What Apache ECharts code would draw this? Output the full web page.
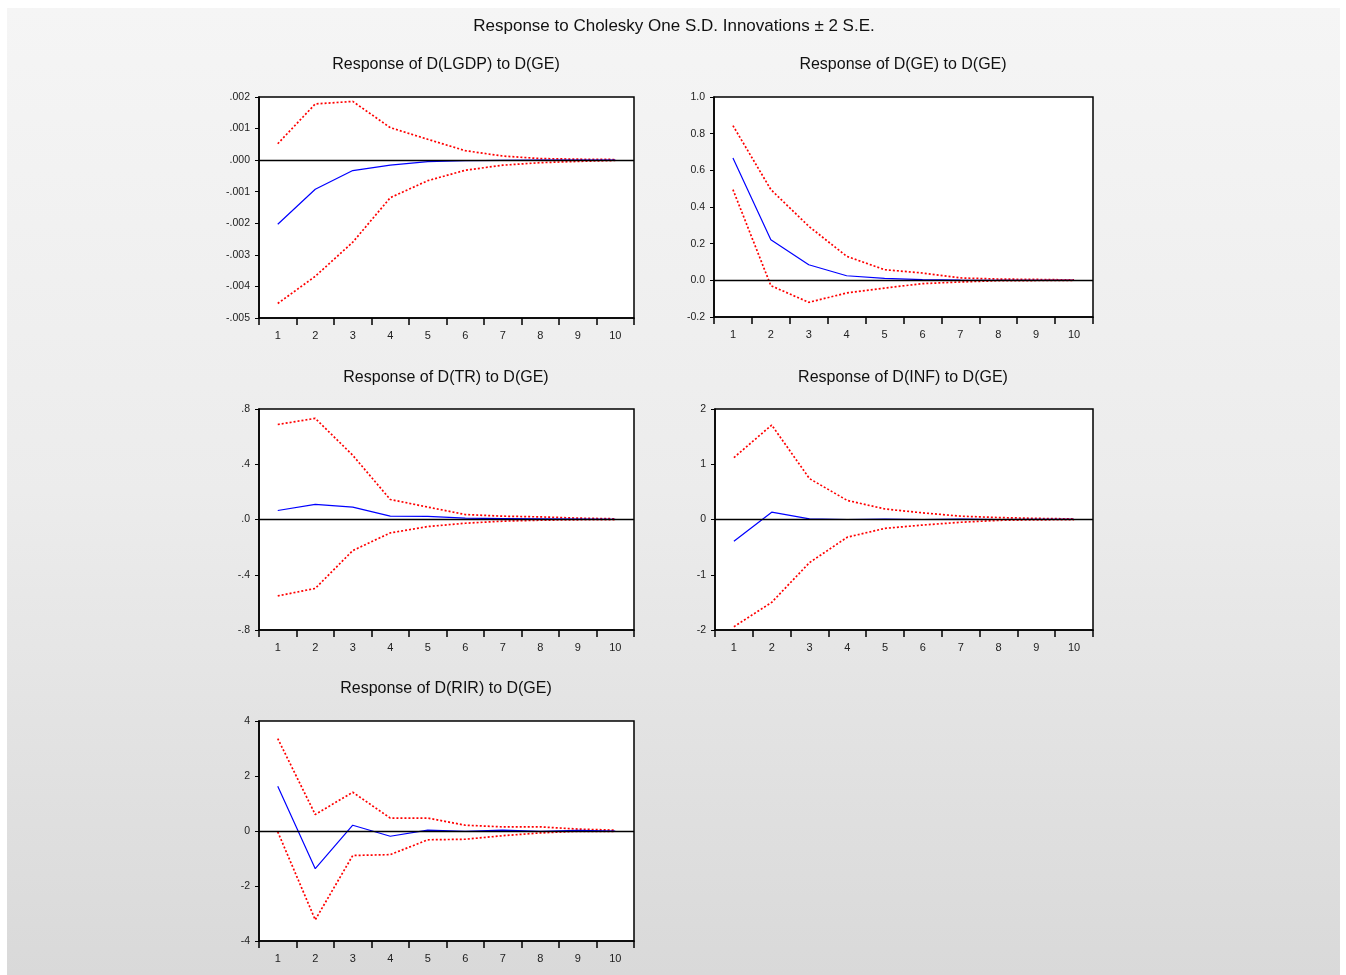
<!DOCTYPE html>
<html>
<head>
<meta charset="utf-8">
<script src="https://cdn.jsdelivr.net/npm/echarts@6/dist/echarts.min.js"></script>
<style>
  html, body { margin: 0; padding: 0; background: #ffffff; }
  #bg { position: absolute; left: 7px; top: 8px; width: 1333px; height: 967px;
        background: linear-gradient(to bottom, #f5f5f5 0%, #ececec 50%, #d9d9d9 100%); }
  #chart { position: absolute; left: 0; top: 0; width: 1346px; height: 975px; }
</style>
</head>
<body>
<div id="bg"></div>
<div id="chart"></div>
<script>
// ---- Data ----
const periods = ['1', '2', '3', '4', '5', '6', '7', '8', '9', '10'];

const lgdpResp  = [-0.00203, -0.00092, -0.00033, -0.00016, -0.00005, -0.00002, -0.00001, 0.0, 0.0, 0.0];
const lgdpUpper = [0.00052, 0.00178, 0.00186, 0.00103, 0.00066, 0.00030, 0.00013, 0.00005, 0.00003, 0.00002];
const lgdpLower = [-0.00454, -0.00368, -0.00260, -0.00119, -0.00065, -0.00032, -0.00016, -0.00008, -0.00004, -0.00001];

const geResp  = [0.667, 0.222, 0.085, 0.025, 0.011, 0.004, 0.001, 0.0, 0.0, 0.0];
const geUpper = [0.844, 0.495, 0.295, 0.131, 0.058, 0.040, 0.013, 0.007, 0.005, 0.002];
const geLower = [0.495, -0.029, -0.120, -0.069, -0.042, -0.018, -0.009, -0.002, -0.001, 0.0];

const trResp  = [0.065, 0.109, 0.090, 0.024, 0.022, 0.010, 0.007, 0.005, 0.003, 0.001];
const trUpper = [0.688, 0.732, 0.465, 0.145, 0.090, 0.036, 0.024, 0.019, 0.010, 0.005];
const trLower = [-0.553, -0.499, -0.225, -0.097, -0.051, -0.027, -0.012, -0.005, -0.002, -0.001];

const infResp  = [-0.394, 0.133, 0.012, 0.0, 0.005, 0.0, 0.005, 0.0, 0.003, 0.001];
const infUpper = [1.12, 1.71, 0.74, 0.345, 0.19, 0.12, 0.06, 0.035, 0.02, 0.01];
const infLower = [-1.94, -1.50, -0.78, -0.32, -0.16, -0.10, -0.05, -0.015, -0.006, -0.003];

const rirResp  = [1.63, -1.37, 0.21, -0.19, 0.03, -0.01, 0.03, -0.01, 0.02, 0.0];
const rirUpper = [3.36, 0.60, 1.41, 0.47, 0.47, 0.21, 0.15, 0.15, 0.07, 0.03];
const rirLower = [-0.03, -3.23, -0.89, -0.86, -0.32, -0.30, -0.17, -0.07, -0.01, -0.01];

// tick labels (from min upward)
const lgdpTicks = ['-.005', '-.004', '-.003', '-.002', '-.001', '.000', '.001', '.002'];
const geTicks   = ['-0.2', '0.0', '0.2', '0.4', '0.6', '0.8', '1.0'];
const trTicks   = ['-.8', '-.4', '.0', '.4', '.8'];
const infTicks  = ['-2', '-1', '0', '1', '2'];
const rirTicks  = ['-4', '-2', '0', '2', '4'];

const mainTitle = 'Response to Cholesky One S.D. Innovations \u00b1 2 S.E.';
const panelTitles = [
  'Response of D(LGDP) to D(GE)',
  'Response of D(GE) to D(GE)',
  'Response of D(TR) to D(GE)',
  'Response of D(INF) to D(GE)',
  'Response of D(RIR) to D(GE)'
];

// ---- Layout ----
const FONT = 'Liberation Sans';
const panels = [
  { grid: { left: 259, top: 97, width: 375, height: 221 }, resp: lgdpResp, up: lgdpUpper, lo: lgdpLower, min: -0.005, max: 0.002, interval: 0.001, ticks: lgdpTicks, titleX: 441, titleY: 52 },
  { grid: { left: 714, top: 97, width: 379, height: 220 }, resp: geResp, up: geUpper, lo: geLower, min: -0.2, max: 1.0, interval: 0.2, ticks: geTicks, titleX: 898, titleY: 52 },
  { grid: { left: 259, top: 409, width: 375, height: 221 }, resp: trResp, up: trUpper, lo: trLower, min: -0.8, max: 0.8, interval: 0.4, ticks: trTicks, titleX: 441, titleY: 365 },
  { grid: { left: 715, top: 409, width: 378, height: 221 }, resp: infResp, up: infUpper, lo: infLower, min: -2, max: 2, interval: 1, ticks: infTicks, titleX: 898, titleY: 365 },
  { grid: { left: 259, top: 721, width: 375, height: 220 }, resp: rirResp, up: rirUpper, lo: rirLower, min: -4, max: 4, interval: 2, ticks: rirTicks, titleX: 441, titleY: 676 }
];

const titles = [{
  text: mainTitle, left: 669, top: 13, textAlign: 'center',
  textStyle: { fontFamily: FONT, fontSize: 17, fontWeight: 'normal', color: '#111' }
}];
const grids = [], xAxes = [], yAxes = [], series = [];

panels.forEach((p, i) => {
  titles.push({
    text: panelTitles[i], left: p.titleX, top: p.titleY, textAlign: 'center',
    textStyle: { fontFamily: FONT, fontSize: 16, fontWeight: 'normal', color: '#111' }
  });
  grids.push(Object.assign({ show: true, backgroundColor: '#ffffff', borderColor: '#000', borderWidth: 1.5, containLabel: false }, p.grid));
  xAxes.push({
    type: 'category', gridIndex: i, data: periods, boundaryGap: true,
    axisLine: { show: true, onZero: false, lineStyle: { color: '#000', width: 1.5 } },
    axisTick: { show: true, inside: false, length: 7, alignWithLabel: false, lineStyle: { color: '#000', width: 1.5 } },
    axisLabel: { fontFamily: FONT, fontSize: 11, color: '#222', margin: 12 },
    splitLine: { show: false }
  });
  const ticks = p.ticks, mn = p.min, iv = p.interval;
  yAxes.push({
    type: 'value', gridIndex: i, min: p.min, max: p.max, interval: p.interval,
    axisLine: { show: true, lineStyle: { color: '#000', width: 1.5 } },
    axisTick: { show: true, inside: false, length: 4, lineStyle: { color: '#000' } },
    axisLabel: {
      fontFamily: FONT, fontSize: 10.5, color: '#222', margin: 9,
      formatter: (v) => ticks[Math.round((v - mn) / iv)]
    },
    splitLine: { show: false }
  });
  const red = { color: '#ff0000', width: 1.7, type: [2, 2] };
  series.push({
    type: 'line', xAxisIndex: i, yAxisIndex: i, data: p.up, symbol: 'none', silent: true,
    lineStyle: red, z: 3
  });
  series.push({
    type: 'line', xAxisIndex: i, yAxisIndex: i, data: p.lo, symbol: 'none', silent: true,
    lineStyle: red, z: 3
  });
  series.push({
    type: 'line', xAxisIndex: i, yAxisIndex: i, data: p.resp, symbol: 'none', silent: true,
    lineStyle: { color: '#0000ff', width: 1.2 }, z: 4,
    markLine: {
      silent: true, symbol: 'none', label: { show: false },
      lineStyle: { color: '#000', width: 1.3, type: 'solid' },
      data: [{ yAxis: 0 }], z: 5
    }
  });
});

const chart = echarts.init(document.getElementById('chart'), null, { renderer: 'canvas' });
chart.setOption({
  animation: false,
  backgroundColor: 'transparent',
  title: titles,
  grid: grids,
  xAxis: xAxes,
  yAxis: yAxes,
  series: series
});
</script>
</body>
</html>
